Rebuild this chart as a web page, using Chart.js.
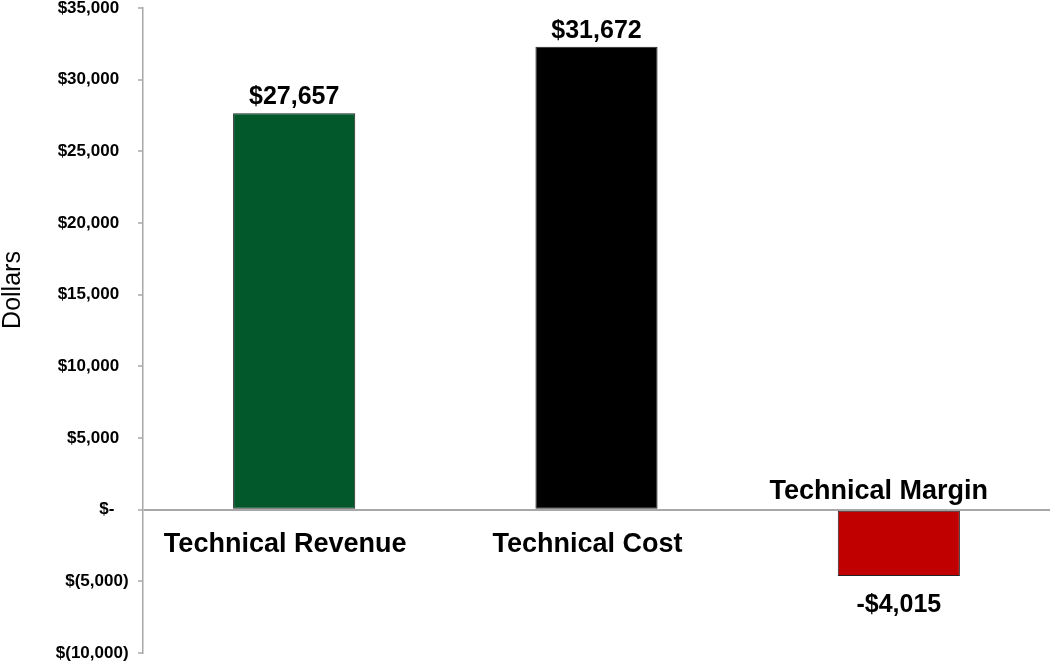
<!DOCTYPE html>
<html>
<head>
<meta charset="utf-8">
<script src="https://cdn.jsdelivr.net/npm/chart.js@4"></script>
<style>
  html, body { margin: 0; padding: 0; background: #fff; }
  #wrap { width: 1050px; height: 663px; }
</style>
</head>
<body>
<div id="wrap"><canvas id="myChart"></canvas></div>
<script>
const categories = ['Technical Revenue', 'Technical Cost', 'Technical Margin'];
// bar heights as drawn in the picture
const values = [27657, 32300, -4630];
// value labels as printed on the picture
const valueLabels = ['$27,657', '$31,672', '-$4,015'];
const barColors = ['#03582b', '#000000', '#c00000'];
const yTitle = 'Dollars';

const FONT = '"Liberation Sans", Arial, sans-serif';
const NB = '\u00a0';

// accounting style: $35,000 / $- / $(5,000), padded like excel
function money(v) {
    if (v === 0) return '$-' + NB.repeat(5);
    const s = Math.abs(v).toLocaleString('en-US');
    return v < 0 ? '$(' + s + ')' + NB.repeat(2) : '$' + s + NB.repeat(4);
}

// draws category names, value labels and the axis title
const labelPlugin = {
    id: 'labels',
    afterDatasetsDraw(chart) {
        const ctx = chart.ctx;
        const x = chart.scales.x;
        const y = chart.scales.y;
        const zero = y.getPixelForValue(0);
        ctx.save();
        ctx.fillStyle = '#000';
        ctx.textAlign = 'center';
        chart.getDatasetMeta(0).data.forEach((bar, i) => {
            const cx = x.getPixelForValue(i);
            // value label
            ctx.font = 'bold 25px ' + FONT;
            if (values[i] >= 0) {
                ctx.textBaseline = 'alphabetic';
                ctx.fillText(valueLabels[i], bar.x, bar.y - 9);
            } else {
                ctx.textBaseline = 'top';
                ctx.fillText(valueLabels[i], bar.x, bar.y + 17);
            }
            // category label
            ctx.font = 'bold 27px ' + FONT;
            ctx.textBaseline = 'middle';
            if (values[i] >= 0) {
                ctx.fillText(categories[i], cx - 9, zero + 35);
            } else {
                ctx.fillText(categories[i], cx - 20, zero - 18);
            }
        });
        // axis title
        ctx.font = '25px ' + FONT;
        ctx.translate(13, 290);
        ctx.rotate(-Math.PI / 2);
        ctx.textBaseline = 'middle';
        ctx.fillText(yTitle, 0, 0);
        ctx.restore();
    }
};

let ctx = document.getElementById('myChart').getContext('2d');

new Chart(ctx, {
    type: 'bar',
    data: {
        labels: categories,
        datasets: [{
            data: values,
            backgroundColor: barColors,
            borderColor: '#222222',
            borderWidth: 1,
            borderSkipped: false,
            barPercentage: 0.404,
            categoryPercentage: 1
        }]
    },
    options: {
        responsive: true,
        maintainAspectRatio: false,
        animation: false,
        layout: { padding: { top: 0, bottom: 10, left: 0, right: 0 } },
        plugins: {
            legend: { display: false },
            tooltip: { enabled: false }
        },
        scales: {
            x: { display: false },
            y: {
                min: -10000,
                max: 35000,
                afterFit(scale) { scale.width = 143; },
                ticks: {
                    stepSize: 5000,
                    padding: 0,
                    color: '#000',
                    font: { family: FONT, size: 17, weight: 'bold', lineHeight: 0.95 },
                    callback: (v) => money(v)
                },
                grid: {
                    color: (c) => (c.tick && c.tick.value === 0 ? '#a8a8a8' : 'transparent'),
                    lineWidth: 2,
                    tickColor: '#a8a8a8',
                    tickLength: 5,
                    tickWidth: 1.5
                },
                border: { display: true, color: '#a8a8a8', width: 1.5 }
            }
        }
    },
    plugins: [labelPlugin]
});
</script>
</body>
</html>
